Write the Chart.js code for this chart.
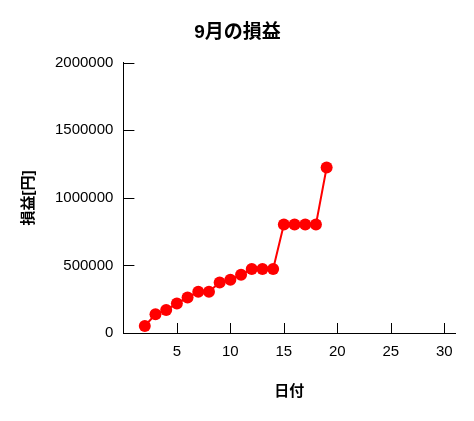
<!DOCTYPE html>
<html>
<head>
<meta charset="utf-8">
<script src="https://cdn.jsdelivr.net/npm/chart.js@4/dist/chart.umd.min.js"></script>
<style>
  body { margin: 0; background: #fff; }
  #wrap { width: 474px; height: 421px; }
</style>
</head>
<body>
<div id="wrap"><canvas id="pl_chart"></canvas></div>
<script>
const days = [2, 3, 4, 5, 6, 7, 8, 9, 10, 11, 12, 13, 14, 15, 16, 17, 18, 19];
const profit = [52000, 139000, 171000, 218000, 262000, 305000, 305000, 374000, 394000,
                431000, 473000, 473000, 473000, 803000, 803000, 803000, 803000, 1225000];
const xTicks = [5, 10, 15, 20, 25, 30];
const yTicks = [0, 500000, 1000000, 1500000, 2000000];

const FONT = "'Liberation Sans', 'Noto Sans CJK JP', sans-serif";

// tick marks drawn inward, like the original plot
const innerTicks = {
    id: 'innerTicks',
    beforeDatasetsDraw(chart) {
        const ctx = chart.ctx;
        const x = chart.scales.x, y = chart.scales.y;
        ctx.save();
        ctx.strokeStyle = '#000';
        ctx.lineWidth = 1;
        ctx.beginPath();
        xTicks.forEach(v => {
            const px = Math.round(x.getPixelForValue(v)) + 0.5;
            ctx.moveTo(px, y.bottom);
            ctx.lineTo(px, y.bottom - 10);
        });
        yTicks.forEach(v => {
            const py = Math.round(y.getPixelForValue(v)) + 0.5;
            ctx.moveTo(x.left, py);
            ctx.lineTo(x.left + 11, py);
        });
        ctx.stroke();
        ctx.restore();
    }
};

new Chart(document.getElementById('pl_chart'), {
    type: 'line',
    data: {
        datasets: [{
            data: days.map((d, i) => ({ x: d, y: profit[i] })),
            borderColor: '#ff0000',
            backgroundColor: '#ff0000',
            borderWidth: 2,
            pointRadius: 6,
            pointBorderWidth: 0,
            pointBackgroundColor: '#ff0000',
            tension: 0,
            fill: false
        }]
    },
    options: {
        responsive: true,
        maintainAspectRatio: false,
        animation: false,
        layout: { padding: { left: 20, right: 19, top: 0, bottom: 20 } },
        plugins: {
            legend: { display: false },
            tooltip: { enabled: false },
            title: {
                display: true,
                text: '9月の損益',
                color: '#000',
                font: { family: FONT, size: 19, weight: 'bold' },
                padding: { top: 21, bottom: 19 }
            }
        },
        scales: {
            x: {
                type: 'linear',
                min: 0,
                max: 31,
                afterBuildTicks: s => { s.ticks = xTicks.map(v => ({ value: v })); },
                grid: { display: true, drawOnChartArea: false, drawTicks: false },
                border: { display: true, color: '#000', width: 1 },
                ticks: { color: '#000', padding: 10, maxRotation: 0, font: { family: FONT, size: 15 } },
                title: {
                    display: true,
                    text: '日付',
                    color: '#000',
                    font: { family: FONT, size: 15, weight: 'bold' },
                    padding: { top: 12, bottom: 0 }
                }
            },
            y: {
                min: 0,
                max: 2000000,
                afterBuildTicks: s => { s.ticks = yTicks.map(v => ({ value: v })); },
                grid: { display: true, drawOnChartArea: false, drawTicks: false },
                border: { display: true, color: '#000', width: 1 },
                ticks: {
                    color: '#000',
                    padding: 10,
                    font: { family: FONT, size: 15 },
                    callback: v => String(v)
                },
                title: {
                    display: true,
                    text: '損益[円]',
                    color: '#000',
                    font: { family: FONT, size: 15, weight: 'bold' },
                    padding: { top: 0, bottom: 7 }
                }
            }
        }
    },
    plugins: [innerTicks]
});
</script>
</body>
</html>
